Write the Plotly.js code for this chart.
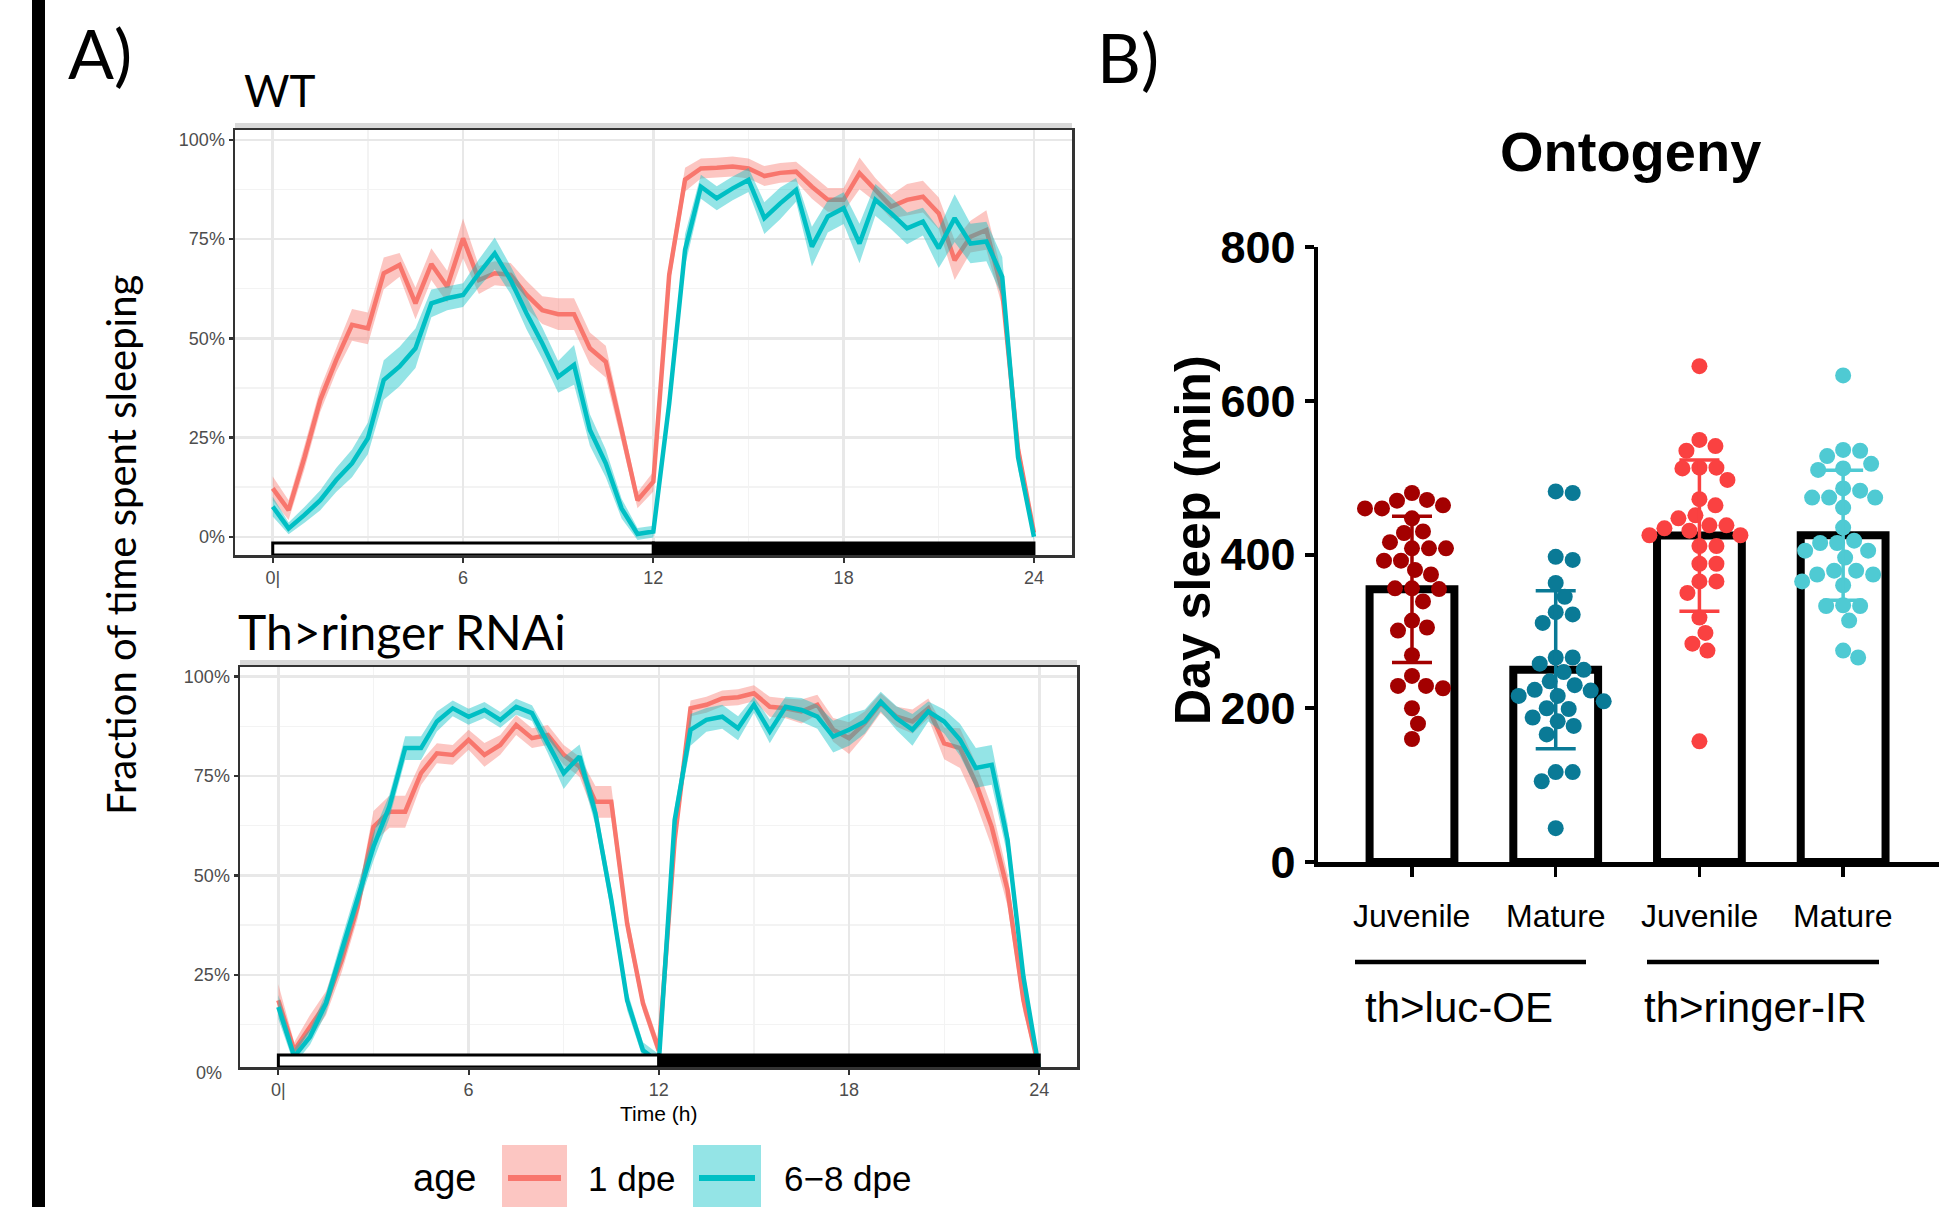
<!DOCTYPE html>
<html><head><meta charset="utf-8">
<script src="https://cdn.plot.ly/plotly-3.0.1.min.js"></script>
<style>html,body{margin:0;padding:0;background:#fff;}#chart{width:1955px;height:1207px;}</style>
</head><body><div id="chart"></div>
<script>
// ---------- Panel A data ----------
const hours = [0,0.5,1,1.5,2,2.5,3,3.5,4,4.5,5,5.5,6,6.5,7,7.5,8,8.5,9,9.5,10,10.5,11,11.5,12,12.5,13,13.5,14,14.5,15,15.5,16,16.5,17,17.5,18,18.5,19,19.5,20,20.5,21,21.5,22,22.5,23,23.5,24];
const ageLevels = ["1 dpe", "6\u22128 dpe"];
const xTicks = [0,6,12,18,24];
const xTickText = ["0|","6","12","18","24"];

const wt1dpe = [0.122,0.067,0.20,0.345,0.445,0.534,0.525,0.664,0.685,0.588,0.687,0.63,0.752,0.647,0.664,0.66,0.61,0.571,0.561,0.561,0.475,0.441,0.269,0.092,0.139,0.66,0.90,0.928,0.93,0.933,0.928,0.909,0.917,0.92,0.882,0.849,0.849,0.916,0.874,0.832,0.849,0.857,0.815,0.697,0.756,0.773,0.62,0.22,0.01];
const wt1dpeSE = [0.03,0.025,0.03,0.03,0.03,0.04,0.04,0.04,0.03,0.04,0.04,0.04,0.05,0.035,0.03,0.03,0.035,0.035,0.04,0.04,0.04,0.04,0.03,0.02,0.025,0.03,0.03,0.025,0.025,0.025,0.025,0.025,0.025,0.025,0.03,0.03,0.03,0.04,0.03,0.03,0.04,0.04,0.04,0.05,0.04,0.05,0.04,0.03,0.01];
const wt68dpe = [0.076,0.021,0.055,0.092,0.143,0.185,0.248,0.395,0.429,0.475,0.588,0.601,0.609,0.664,0.714,0.647,0.563,0.487,0.403,0.433,0.269,0.185,0.071,0.007,0.013,0.336,0.723,0.882,0.853,0.878,0.899,0.803,0.840,0.874,0.731,0.807,0.828,0.739,0.849,0.815,0.777,0.794,0.727,0.803,0.739,0.744,0.655,0.20,0.0];
const wt68dpeSE = [0.025,0.015,0.02,0.025,0.03,0.035,0.04,0.05,0.05,0.05,0.035,0.03,0.03,0.035,0.04,0.035,0.04,0.04,0.04,0.05,0.04,0.035,0.025,0.015,0.015,0.03,0.04,0.03,0.03,0.03,0.03,0.04,0.04,0.03,0.05,0.04,0.04,0.05,0.04,0.04,0.04,0.035,0.05,0.06,0.05,0.05,0.05,0.03,0.01];
const rnai1dpe = [0.186,0.06,0.119,0.178,0.287,0.421,0.622,0.66,0.66,0.757,0.807,0.803,0.841,0.803,0.828,0.878,0.845,0.853,0.803,0.773,0.685,0.685,0.379,0.178,0.06,0.589,0.92,0.929,0.945,0.948,0.958,0.924,0.92,0.912,0.929,0.866,0.845,0.883,0.933,0.899,0.887,0.92,0.832,0.82,0.732,0.622,0.463,0.186,0.01];
const rnai1dpeSE = [0.04,0.02,0.03,0.03,0.03,0.03,0.04,0.04,0.04,0.03,0.025,0.025,0.025,0.03,0.025,0.025,0.025,0.025,0.025,0.025,0.04,0.04,0.03,0.02,0.02,0.03,0.02,0.02,0.02,0.02,0.02,0.025,0.025,0.03,0.025,0.03,0.04,0.03,0.025,0.025,0.03,0.025,0.04,0.05,0.05,0.05,0.04,0.03,0.01];
const rnai68dpe = [0.169,0.044,0.094,0.178,0.312,0.446,0.572,0.673,0.82,0.82,0.887,0.92,0.899,0.916,0.891,0.924,0.908,0.832,0.757,0.799,0.656,0.438,0.186,0.06,0.03,0.639,0.866,0.891,0.899,0.87,0.929,0.862,0.924,0.916,0.899,0.849,0.866,0.887,0.937,0.895,0.866,0.912,0.887,0.841,0.77,0.778,0.589,0.245,0.01];
const rnai68dpeSE = [0.03,0.02,0.02,0.025,0.03,0.03,0.035,0.03,0.03,0.03,0.025,0.02,0.02,0.02,0.02,0.02,0.02,0.025,0.04,0.03,0.03,0.03,0.025,0.02,0.02,0.03,0.04,0.03,0.03,0.03,0.02,0.03,0.025,0.03,0.03,0.04,0.04,0.03,0.025,0.03,0.04,0.025,0.03,0.04,0.05,0.05,0.04,0.03,0.01];

// ---------- Panel B data ----------
const ageGroups = ["Juvenile","Mature","Juvenile","Mature"];
const genotypes = ["th>luc-OE","th>ringer-IR"];
const juvLuc = [464,460,470,480,460,471,447,430,428,408,408,408,416,392,392,380,374,356,356,355,339,314,305,301,269,242,226,229,229,200,180,160];
const matLuc = [482,480,397,393,363,345,325,322,311,266,266,258,250,247,235,230,224,223,216,216,209,200,199,188,183,177,166,117,117,105,44];
const juvRinger = [645,549,541,535,513,513,512,497,472,464,447,451,434,438,438,425,431,411,425,411,388,388,365,365,350,318,298,284,275,157];
const matRinger = [633,535,528,536,518,512,510,486,483,474,474,474,461,435,418,415,415,405,405,396,379,379,374,374,365,360,333,333,334,314,275,266];
const groups = [juvLuc, matLuc, juvRinger, matRinger];
const groupColors = ["#A30000","#0A7A96","#FA4141","#4FCAD3"];

// ---------- helpers ----------
const W = 1955, H = 1207;
const px = x => x / W;
const py = y => 1 - y / H;
const RED = "#F8766D", CYAN = "#00BFC4";
const REDF = "rgba(248,118,109,0.42)", CYANF = "rgba(0,191,196,0.42)";
const mean = a => a.reduce((s,v)=>s+v,0)/a.length;
const sd = a => { const m = mean(a); return Math.sqrt(a.reduce((s,v)=>s+(v-m)*(v-m),0)/(a.length-1)); };

const traces = [];
function ribbon(y, se, color, fill, xa, ya, name) {
  const up = y.map((v,i)=>v+se[i]);
  const lo = y.map((v,i)=>v-se[i]);
  traces.push({x: hours.concat(hours.slice().reverse()), y: up.concat(lo.slice().reverse()),
    type:'scatter', mode:'lines', fill:'toself', fillcolor: fill, line:{width:0, color:fill},
    hoverinfo:'skip', xaxis:xa, yaxis:ya, showlegend:false});
  traces.push({x: hours, y: y, type:'scatter', mode:'lines', name:name,
    line:{color:color, width:4.5}, xaxis:xa, yaxis:ya, showlegend:false});
}
ribbon(wt1dpe, wt1dpeSE, RED, REDF, 'x', 'y', ageLevels[0]);
ribbon(wt68dpe, wt68dpeSE, CYAN, CYANF, 'x', 'y', ageLevels[1]);
ribbon(rnai1dpe, rnai1dpeSE, RED, REDF, 'x2', 'y2', ageLevels[0]);
ribbon(rnai68dpe, rnai68dpeSE, CYAN, CYANF, 'x2', 'y2', ageLevels[1]);

// bar chart
const xCat = [0,1,2,3];
const means = groups.map(mean);
const sds = groups.map(sd);
traces.push({type:'bar', x:xCat, y:means, width:0.59, marker:{color:'#fff', line:{color:'#000', width:8}},
  xaxis:'x3', yaxis:'y3', showlegend:false, hoverinfo:'y'});

// beeswarm x positions computed from the values
const bPxPerX = 143.7, bPxPerY = 615/800, DIAM = 16.5;
function swarm(vals, center) {
  const order = vals.map((v,i)=>i).sort((a,b)=>vals[b]-vals[a]);
  const placed = []; const xs = new Array(vals.length);
  for (const i of order) {
    const yp = vals[i]*bPxPerY; let best = null;
    for (let k=0; k<300 && best===null; k++) {
      const cands = k===0 ? [0] : [k,-k];
      for (const c of cands) {
        if (placed.every(p => (p.x-c)*(p.x-c)+(p.y-yp)*(p.y-yp) >= DIAM*DIAM)) { best = c; break; }
      }
    }
    placed.push({x:best, y:yp});
    xs[i] = center + best / bPxPerX;
  }
  return xs;
}
groups.forEach((g,i)=>{
  traces.push({type:'scatter', mode:'markers', x:swarm(g,xCat[i]), y:g,
    marker:{color:groupColors[i], size:16}, xaxis:'x3', yaxis:'y3', showlegend:false});
});
groups.forEach((g,i)=>{
  traces.push({type:'scatter', mode:'markers', x:[xCat[i]], y:[means[i]],
    marker:{opacity:0, size:1}, error_y:{type:'data', array:[sds[i]], color:groupColors[i], thickness:3.5, width:20},
    xaxis:'x3', yaxis:'y3', showlegend:false, hoverinfo:'skip'});
});

// ---------- layout ----------
const ggFont = {family:'Liberation Sans, Arial, sans-serif', size:18, color:'#4d4d4d'};
function ggX(domain, range) {
  return {domain:domain, range:range, tickvals:xTicks, ticktext:xTickText, ticks:'outside', ticklen:5, tickwidth:2,
    tickcolor:'#333', tickfont:ggFont, showline:true, mirror:true, linecolor:'#333', linewidth:2.5,
    showgrid:true, gridcolor:'#e8e8e8', gridwidth:2.5, zeroline:false,
    minor:{tickmode:'linear', tick0:0, dtick:3, showgrid:true, gridcolor:'#f3f3f3', gridwidth:1.3}};
}
function ggY(domain, range) {
  return {domain:domain, range:range, tickmode:'linear', tick0:0, dtick:0.25, tickformat:'.0%', ticks:'outside', ticklen:4, tickwidth:2.5,
    tickcolor:'#333', tickfont:ggFont, showline:true, mirror:true, linecolor:'#333', linewidth:2.5,
    showgrid:true, gridcolor:'#e8e8e8', gridwidth:2.5, zeroline:false,
    minor:{tickmode:'linear', tick0:0, dtick:0.125, showgrid:true, gridcolor:'#f3f3f3', gridwidth:1.3}};
}
const boldFont = {family:'Liberation Sans, Arial, sans-serif', color:'#000', weight:700};

const layout = {
  width:W, height:H, margin:{l:0,r:0,t:0,b:0}, paper_bgcolor:'#fff', plot_bgcolor:'#fff', showlegend:false,
  xaxis: ggX([px(235), px(1072)], [-1.19, 25.2]),
  yaxis: ggY([py(555), py(130)], [-0.046, 1.025]),
  xaxis2: Object.assign(ggX([px(240), px(1077)], [-1.21, 25.19]), {anchor:'y2'}),
  yaxis2: Object.assign(ggY([py(1067), py(667)], [0.018, 1.024]), {anchor:'x2'}),
  xaxis3: {domain:[px(1318), px(1939)], range:[-0.654, 3.667], anchor:'y3', tickvals:xCat, showticklabels:false,
    ticks:'outside', ticklen:10, tickwidth:3.5, tickcolor:'#000', showline:true, linecolor:'#000', linewidth:4.5,
    showgrid:false, zeroline:false},
  yaxis3: {domain:[py(862), py(247)], range:[0,800], anchor:'x3', tickvals:[0,200,400,600,800],
    ticks:'outside', ticklen:9, tickwidth:4, tickcolor:'#000', showline:true, linecolor:'#000', linewidth:4.5,
    ticklabelstandoff:0, showgrid:false, zeroline:false, tickfont:Object.assign({size:45}, boldFont)},
  shapes:[], annotations:[]
};

// left black bar
layout.shapes.push({type:'rect', xref:'paper', yref:'paper', x0:px(32), x1:px(45), y0:0, y1:1, fillcolor:'#000', line:{width:0}});
// grey strip remnants at top of facet panels
layout.shapes.push({type:'rect', xref:'paper', yref:'paper', x0:px(235), x1:px(1072), y0:py(128.5), y1:py(123), fillcolor:'#d9d9d9', line:{width:0}, layer:'below'});
layout.shapes.push({type:'rect', xref:'paper', yref:'paper', x0:px(240), x1:px(1077), y0:py(665.5), y1:py(660), fillcolor:'#d9d9d9', line:{width:0}, layer:'below'});
// light/dark bars
function ldBar(xr, yr, y0, y1) {
  layout.shapes.push({type:'rect', xref:xr, yref:yr, x0:0, x1:12, y0:y0, y1:y1, fillcolor:'#fff', line:{color:'#000', width:3}, layer:'above'});
  layout.shapes.push({type:'rect', xref:xr, yref:yr, x0:12, x1:24, y0:y0, y1:y1, fillcolor:'#000', line:{color:'#000', width:3}, layer:'above'});
}
ldBar('x', 'y', -0.046, -0.016);
ldBar('x2', 'y2', 0.018, 0.048);

function ann(text, x, y, size, opts) {
  layout.annotations.push(Object.assign({text:text, xref:'paper', yref:'paper', x:px(x), y:py(y), showarrow:false,
    xanchor:'center', yanchor:'middle', font:{family:'Lato, sans-serif', size:size, color:'#000'}}, opts||{}));
}
ann("A)", 66, 52, 68, {xanchor:'left'});
ann("B)", 1095, 56, 68, {xanchor:'left'});
ann("WT", 242, 90, 44, {xanchor:'left'});
ann("Th&gt;ringer RNAi", 236, 631, 48, {xanchor:'left'});
ann("Fraction of time spent sleeping", 121, 545, 40, {textangle:-90});
ann("Time (h)", 658, 1113, 21, {font:{family:'Liberation Sans, Arial, sans-serif', size:21, color:'#000'}});
ann("0%", 209, 1073, 18, {font:ggFont});

// legend for panel A
ann("age", 444, 1178, 38, {font:{family:'Liberation Sans, Arial, sans-serif', size:38, color:'#000'}});
[[502,567,REDF,RED,ageLevels[0],586],[693,761,CYANF,CYAN,ageLevels[1],782]].forEach(k=>{
  layout.shapes.push({type:'rect', xref:'paper', yref:'paper', x0:px(k[0]), x1:px(k[1]), y0:py(1212), y1:py(1145), fillcolor:k[2], line:{width:0}});
  layout.shapes.push({type:'line', xref:'paper', yref:'paper', x0:px(k[0]+6), x1:px(k[1]-6), y0:py(1178), y1:py(1178), line:{color:k[3], width:6}});
  ann(k[4], k[5], 1178, 35, {xanchor:'left', font:{family:'Liberation Sans, Arial, sans-serif', size:35, color:'#000'}});
});

// panel B texts
ann("Ontogeny", 1630, 152, 56, {font:Object.assign({size:56}, boldFont)});
ann("Day sleep (min)", 1193, 540, 50, {textangle:-90, font:Object.assign({size:50}, boldFont)});
ageGroups.forEach((g,i)=>{
  layout.annotations.push({text:g, xref:'x3', yref:'paper', x:xCat[i], y:py(916), showarrow:false, xanchor:'center', yanchor:'middle',
    font:{family:'Liberation Sans, Arial, sans-serif', size:32, color:'#000'}});
});
[[1355,1586,1459],[1647,1879,1755]].forEach((g,i)=>{
  layout.shapes.push({type:'line', xref:'paper', yref:'paper', x0:px(g[0]), x1:px(g[1]), y0:py(962), y1:py(962), line:{color:'#000', width:4.5}});
  ann(genotypes[i].replace('>','&gt;'), g[2], 1007, 42, {font:{family:'Liberation Sans, Arial, sans-serif', size:42, color:'#000'}});
});

Plotly.newPlot('chart', traces, layout, {staticPlot:true, displayModeBar:false});
</script></body></html>
